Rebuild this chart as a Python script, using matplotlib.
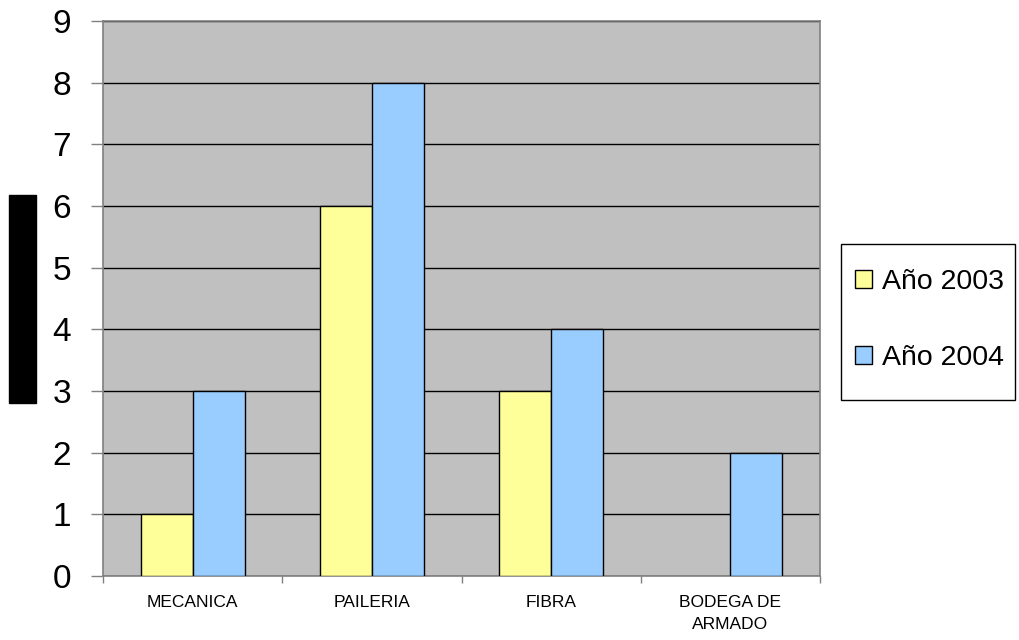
import matplotlib.pyplot as plt
from matplotlib.patches import Rectangle
import numpy as np

plt.rcParams['font.family'] = ['Liberation Sans', 'DejaVu Sans']

categorias = ['MECANICA', 'PAILERIA', 'FIBRA', 'BODEGA DE\nARMADO']
anio_2003 = [1, 6, 3, 0]
anio_2004 = [3, 8, 4, 2]

W, H = 1019, 640
fig = plt.figure(figsize=(W / 100, H / 100), dpi=100)
ax = fig.add_axes([103 / W, (H - 576) / H, (820 - 103) / W, (576 - 21) / H])
ax.set_facecolor('#C0C0C0')

x = np.arange(len(categorias))
ancho = 0.29
# sin borde en barras de altura cero
bordes_03 = ['black' if v > 0 else 'none' for v in anio_2003]
bordes_04 = ['black' if v > 0 else 'none' for v in anio_2004]
ax.bar(x - ancho / 2, anio_2003, ancho, color='#FFFF99', edgecolor=bordes_03, linewidth=1, label='Año 2003', zorder=3)
ax.bar(x + ancho / 2, anio_2004, ancho, color='#99CCFF', edgecolor=bordes_04, linewidth=1, label='Año 2004', zorder=3)

ax.set_xlim(-0.5, len(categorias) - 0.5)
ax.set_ylim(0, 9)
ax.set_yticks(range(0, 10))
ax.yaxis.grid(True, color='black', linewidth=1, zorder=1)
ax.set_axisbelow(True)
ax.tick_params(axis='y', labelsize=24, length=9, width=1, color='#808080', pad=14)

ax.set_xticks(x)
ax.set_xticklabels(categorias, fontsize=12.5, linespacing=1.55)
ax.set_xticks(np.arange(-0.5, len(categorias)), minor=True)
ax.tick_params(axis='x', which='major', length=0, pad=14)
ax.tick_params(axis='x', which='minor', length=5, width=1, color='#808080')

for s in ax.spines.values():
    s.set_color('#808080')
    s.set_linewidth(1.2)

# barra negra a la izquierda
fig.patches.append(Rectangle((9 / W, (H - 403) / H), 27 / W, 208 / H,
                             transform=fig.transFigure, color='black'))

# leyenda con marco aparte
fig.patches.append(Rectangle((841 / W, (H - 400) / H), 174 / W, 156 / H,
                             transform=fig.transFigure, facecolor='white',
                             edgecolor='black', linewidth=1, zorder=-1))
leg = ax.legend(loc='center left', bbox_to_anchor=(855 / W, (H - 320) / H),
                bbox_transform=fig.transFigure, fontsize=20.5, frameon=False,
                handlelength=0.6, handleheight=0.6, handletextpad=0.35,
                borderpad=0, labelspacing=1.75, borderaxespad=0)

fig.savefig('out.png', dpi=100)
